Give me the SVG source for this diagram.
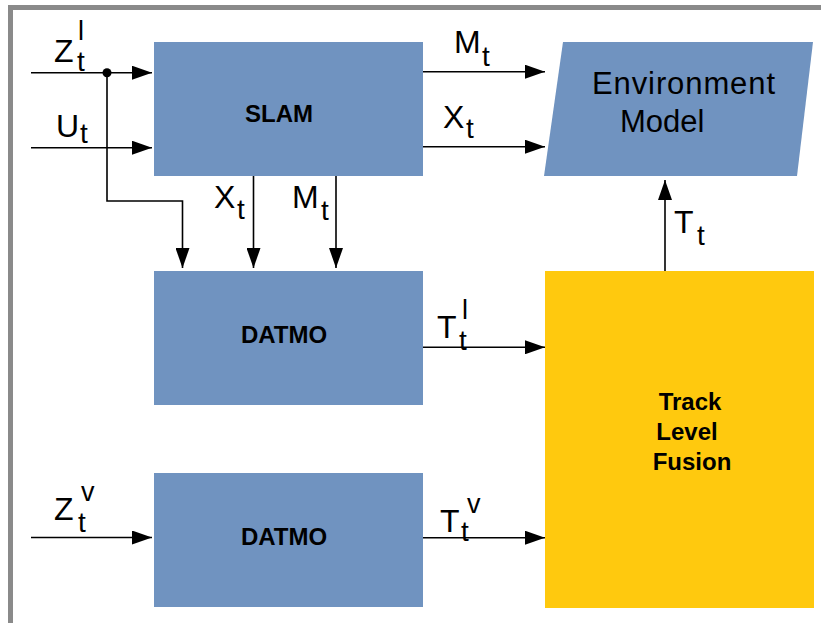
<svg xmlns="http://www.w3.org/2000/svg" width="821" height="623" viewBox="0 0 821 623">
<style>
.blk{fill:#7093c0}
.yel{fill:#ffc90e}
.ln{stroke:#000;stroke-width:1.6;fill:none}
.lb{font-family:"Liberation Sans",Arial,sans-serif;font-size:32px;fill:#000}
.sb{font-family:"Liberation Sans",Arial,sans-serif;font-size:28px;fill:#000}
.sp{font-family:"Liberation Sans",Arial,sans-serif;font-size:27px;fill:#000}
.bd{font-family:"Liberation Sans",Arial,sans-serif;font-size:24px;font-weight:bold;fill:#000}
.rg{font-family:"Liberation Sans",Arial,sans-serif;font-size:31px;fill:#000}
</style>
<defs>
<marker id="ah" viewBox="0 0 20 14" refX="20" refY="7" markerWidth="20" markerHeight="14" markerUnits="userSpaceOnUse" orient="auto">
<path d="M0,0 L20,7 L0,14 Z" fill="#000"/>
</marker>
</defs>
<rect width="821" height="623" fill="#fff"/>
<path d="M10.5,623 V7.5 H821" fill="none" stroke="#8a8a8a" stroke-width="5"/>

<g id="slam"><rect class="blk" x="154" y="42" width="269" height="134"/><text class="bd" x="279" y="122" text-anchor="middle">SLAM</text></g>
<g id="datmo1"><rect class="blk" x="154" y="271" width="269" height="134"/><text class="bd" x="284" y="343" text-anchor="middle">DATMO</text></g>
<g id="datmo2"><rect class="blk" x="154" y="473" width="269" height="134"/><text class="bd" x="284" y="545" text-anchor="middle">DATMO</text></g>
<g id="env"><polygon class="blk" points="563,42 813,42 797,176 544,176"/><text class="rg" x="592" y="94" textLength="183">Environment</text><text class="rg" x="620" y="132">Model</text></g>
<g id="fusion"><rect class="yel" x="545" y="271" width="269" height="337"/><text class="bd" x="690" y="410" text-anchor="middle">Track</text><text class="bd" x="687" y="440" text-anchor="middle">Level</text><text class="bd" x="692" y="470" text-anchor="middle">Fusion</text></g>

<g id="connectors">
<path class="ln" d="M31,72.7 H152" marker-end="url(#ah)"/>
<circle cx="107" cy="72.7" r="4.5" fill="#000"/>
<path class="ln" d="M107,72.7 V201 H182.5 V268" marker-end="url(#ah)"/>
<path class="ln" d="M31,147.7 H152" marker-end="url(#ah)"/>
<path class="ln" d="M253.5,176 V268" marker-end="url(#ah)"/>
<path class="ln" d="M336,176 V268" marker-end="url(#ah)"/>
<path class="ln" d="M423,71.7 H545" marker-end="url(#ah)"/>
<path class="ln" d="M423,146.7 H545" marker-end="url(#ah)"/>
<path class="ln" d="M665,271 V180" marker-end="url(#ah)"/>
<path class="ln" d="M423,347.3 H545" marker-end="url(#ah)"/>
<path class="ln" d="M31,537.5 H152" marker-end="url(#ah)"/>
<path class="ln" d="M423,537.7 H545" marker-end="url(#ah)"/>
</g>

<g id="labels">
<text class="lb" x="54" y="62">Z</text><text class="sb" x="77" y="71">t</text><text class="sp" x="78" y="40">l</text>
<text class="lb" x="56" y="137">U</text><text class="sb" x="80" y="143">t</text>
<text class="lb" x="454" y="53">M</text><text class="sb" x="482" y="66">t</text>
<text class="lb" x="443" y="128">X</text><text class="sb" x="466" y="138">t</text>
<text class="lb" x="214" y="208">X</text><text class="sb" x="237" y="219">t</text>
<text class="lb" x="292" y="208">M</text><text class="sb" x="321" y="220">t</text>
<text class="lb" x="674" y="233">T</text><text class="sb" x="697" y="245">t</text>
<text class="lb" x="437" y="338">T</text><text class="sb" x="459" y="350">t</text><text class="sp" x="462" y="319">l</text>
<text class="lb" x="440" y="532">T</text><text class="sb" x="461" y="541">t</text><text class="sp" x="467" y="513">v</text>
<text class="lb" x="54" y="520">Z</text><text class="sb" x="78" y="532">t</text><text class="sp" x="81" y="501">v</text>
</g>
</svg>
